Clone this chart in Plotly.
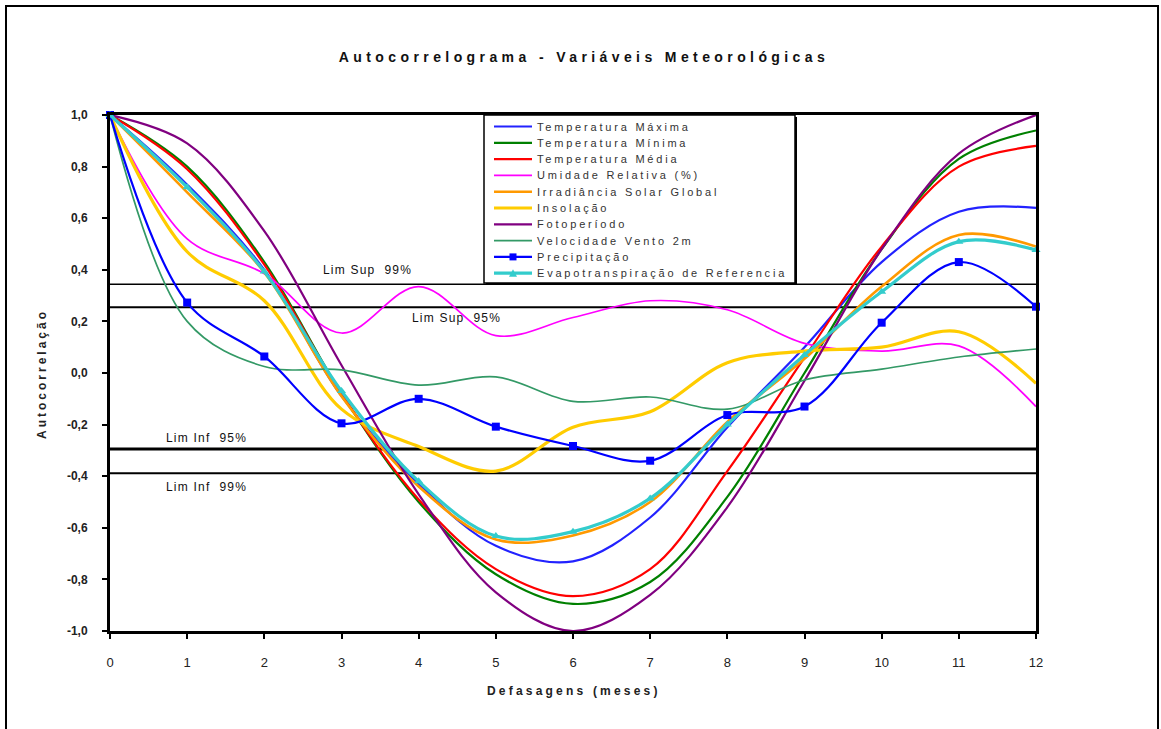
import plotly.graph_objects as go

# ---------------- data ----------------
meses = list(range(13))
x_tick_labels = [str(m) for m in meses]
y_tick_vals = [1.0, 0.8, 0.6, 0.4, 0.2, 0.0, -0.2, -0.4, -0.6, -0.8, -1.0]
y_tick_labels = ["1,0", "0,8", "0,6", "0,4", "0,2", "0,0", "-0,2", "-0,4", "-0,6", "-0,8", "-1,0"]

temp_maxima = [1.00, 0.73, 0.40, -0.09, -0.43, -0.67, -0.73, -0.56, -0.21, 0.10, 0.43, 0.625, 0.64]
temp_minima = [1.00, 0.80, 0.43, -0.08, -0.50, -0.78, -0.895, -0.81, -0.48, 0.00, 0.48, 0.83, 0.94]
temp_media = [1.00, 0.79, 0.42, -0.08, -0.49, -0.76, -0.865, -0.76, -0.38, 0.06, 0.49, 0.80, 0.88]
umidade_relativa = [1.00, 0.52, 0.385, 0.155, 0.335, 0.145, 0.215, 0.28, 0.245, 0.115, 0.085, 0.105, -0.13]
irradiancia = [1.00, 0.70, 0.39, -0.09, -0.44, -0.645, -0.63, -0.50, -0.19, 0.055, 0.335, 0.535, 0.49]
insolacao = [1.00, 0.47, 0.28, -0.14, -0.285, -0.38, -0.21, -0.15, 0.04, 0.085, 0.10, 0.16, -0.04]
fotoperiodo = [1.00, 0.89, 0.55, 0.03, -0.47, -0.85, -1.00, -0.86, -0.52, -0.03, 0.48, 0.85, 1.00]
vento_2m = [1.00, 0.20, 0.025, 0.012, -0.047, -0.015, -0.11, -0.093, -0.14, -0.027, 0.015, 0.062, 0.093]
precipitacao = [1.00, 0.273, 0.064, -0.195, -0.10, -0.208, -0.283, -0.34, -0.163, -0.13, 0.195, 0.43, 0.257]
evapotranspiracao = [1.00, 0.72, 0.393, -0.07, -0.42, -0.632, -0.615, -0.486, -0.20, 0.07, 0.315, 0.509, 0.477]

series_names = [
    "Temperatura Máxima", "Temperatura Mínima", "Temperatura Média",
    "Umidade Relativa (%)", "Irradiância Solar Global", "Insolação",
    "Fotoperíodo", "Velocidade Vento 2m", "Precipitação",
    "Evapotranspiração de Referencia",
]
series_values = [
    temp_maxima, temp_minima, temp_media, umidade_relativa, irradiancia,
    insolacao, fotoperiodo, vento_2m, precipitacao, evapotranspiracao,
]

limit_labels = ["Lim Sup  99%", "Lim Sup  95%", "Lim Inf  95%", "Lim Inf  99%"]
limit_values = [0.344, 0.255, -0.295, -0.389]

# ---------------- styles ----------------
styles = [
    dict(color="#2222ff", width=2.2, symbol=None),
    dict(color="#008000", width=2.2, symbol=None),
    dict(color="#ff0000", width=2.2, symbol=None),
    dict(color="#ff00ff", width=1.7, symbol=None),
    dict(color="#ff9900", width=2.6, symbol=None),
    dict(color="#ffcc00", width=3.2, symbol=None),
    dict(color="#800080", width=2.2, symbol=None),
    dict(color="#339966", width=1.7, symbol=None),
    dict(color="#0000ff", width=2.2, symbol="square"),
    dict(color="#33cccc", width=3.2, symbol="triangle-up"),
]
limit_widths = [1.6, 2.0, 3.0, 2.0]
limit_label_px = [(367, 270), (456, 318), (206, 438), (206, 487)]

W, H = 1161, 729
L, R, T, B = 110, 1036, 115, 631
FONT = "Liberation Sans, Arial, sans-serif"


def px_x(px):
    return (px - L) / (R - L)


def px_y(py):
    return (B - py) / (B - T)


def spaced(text, sp):
    return f'<span style="letter-spacing:{sp}px">{text}</span>'


fig = go.Figure()

for name, vals, st in zip(series_names, series_values, styles):
    mode = "lines+markers" if st["symbol"] else "lines"
    fig.add_trace(go.Scatter(
        x=meses, y=vals, name=name, mode=mode,
        line=dict(color=st["color"], width=st["width"], shape="spline", smoothing=1.0),
        marker=dict(symbol=st["symbol"] or "circle", size=8, color=st["color"]),
        cliponaxis=(st["symbol"] is None),
        showlegend=False,
    ))

annotations = []
shapes = []

# limit lines (data values) + labels
for val, w in zip(limit_values, limit_widths):
    shapes.append(dict(type="line", xref="paper", yref="y", x0=0, x1=1, y0=val, y1=val,
                       line=dict(color="black", width=w), layer="below"))
for lab, (cx, cy) in zip(limit_labels, limit_label_px):
    annotations.append(dict(
        x=px_x(cx), y=px_y(cy), xref="paper", yref="paper", showarrow=False,
        text=spaced(lab, 1.2), xanchor="center", yanchor="middle",
        font=dict(family=FONT, size=12, color="#111111"),
    ))

# custom legend box
shapes.append(dict(type="rect", xref="paper", yref="paper",
                   x0=px_x(486), x1=px_x(797), y0=px_y(285), y1=px_y(117),
                   fillcolor="black", line=dict(width=0), layer="above"))
shapes.append(dict(type="rect", xref="paper", yref="paper",
                   x0=px_x(484), x1=px_x(795), y0=px_y(283), y1=px_y(115),
                   fillcolor="white", line=dict(color="black", width=1.5), layer="above"))

row0, row_h = 126.5, 16.3
for i, (name, st) in enumerate(zip(series_names, styles)):
    yc = row0 + row_h * i
    shapes.append(dict(type="line", xref="paper", yref="paper",
                       x0=px_x(494), x1=px_x(532), y0=px_y(yc), y1=px_y(yc),
                       line=dict(color=st["color"], width=st["width"]), layer="above"))
    if st["symbol"] == "square":
        shapes.append(dict(type="rect", xref="paper", yref="paper",
                           x0=px_x(509.5), x1=px_x(516.5), y0=px_y(yc + 3.5), y1=px_y(yc - 3.5),
                           fillcolor=st["color"], line=dict(width=0), layer="above"))
    elif st["symbol"] == "triangle-up":
        xa, xb, xc = px_x(509), px_x(517), px_x(513)
        ya, yb = px_y(yc + 3.5), px_y(yc - 4)
        shapes.append(dict(type="path", xref="paper", yref="paper",
                           path=f"M {xa} {ya} L {xb} {ya} L {xc} {yb} Z",
                           fillcolor=st["color"], line=dict(width=0), layer="above"))
    annotations.append(dict(
        x=px_x(535), y=px_y(yc), xref="paper", yref="paper", showarrow=False,
        text=spaced(name, 2.8), xanchor="left", yanchor="middle",
        font=dict(family=FONT, size=11, color="#333333"),
    ))

# axis titles
annotations.append(dict(
    x=px_x(574), y=px_y(691), xref="paper", yref="paper", showarrow=False,
    text=spaced("Defasagens (meses)", 3.2), xanchor="center", yanchor="middle",
    font=dict(family=FONT, size=12, color="#222222", weight="bold"),
))
annotations.append(dict(
    x=px_x(42), y=px_y(374), xref="paper", yref="paper", showarrow=False,
    text=spaced("Autocorrelação", 3.0), textangle=-90, xanchor="center", yanchor="middle",
    font=dict(family=FONT, size=12, color="#222222", weight="bold"),
))

# outer frame
shapes.append(dict(type="rect", xref="paper", yref="paper",
                   x0=px_x(6), x1=px_x(1158), y0=px_y(745), y1=px_y(6),
                   fillcolor="rgba(0,0,0,0)", line=dict(color="black", width=2), layer="above"))

fig.update_layout(
    width=W, height=H,
    margin=dict(l=L, r=W - R, t=T, b=H - B),
    paper_bgcolor="white", plot_bgcolor="white",
    showlegend=False,
    font=dict(family=FONT, color="#222222"),
    title=dict(
        text=spaced("Autocorrelograma - Variáveis Meteorológicas", 4.4),
        x=584 / W, xanchor="center", y=1 - 57 / H, yanchor="middle", yref="container",
        font=dict(family=FONT, size=14, color="#111111", weight="bold"),
    ),
)
fig.layout.annotations = annotations
fig.layout.shapes = shapes

fig.update_xaxes(
    range=[0, 12], tickvals=meses, ticktext=x_tick_labels,
    showline=True, linecolor="black", linewidth=3, mirror=True,
    ticks="outside", ticklen=5, tickwidth=1.5, tickcolor="black",
    showgrid=False, zeroline=False, ticklabelstandoff=12,
    tickfont=dict(family="Liberation Sans Narrow, Liberation Sans, Arial", size=13, color="#222222"),
)
fig.update_yaxes(
    range=[-1, 1], tickvals=y_tick_vals, ticktext=y_tick_labels,
    showline=True, linecolor="black", linewidth=3, mirror=True,
    ticks="outside", ticklen=5, tickwidth=2, tickcolor="black",
    showgrid=False, zeroline=False, ticklabelstandoff=12,
    tickfont=dict(family=FONT, size=12, color="#222222", weight="bold"),
)

fig.write_html("out.html")
